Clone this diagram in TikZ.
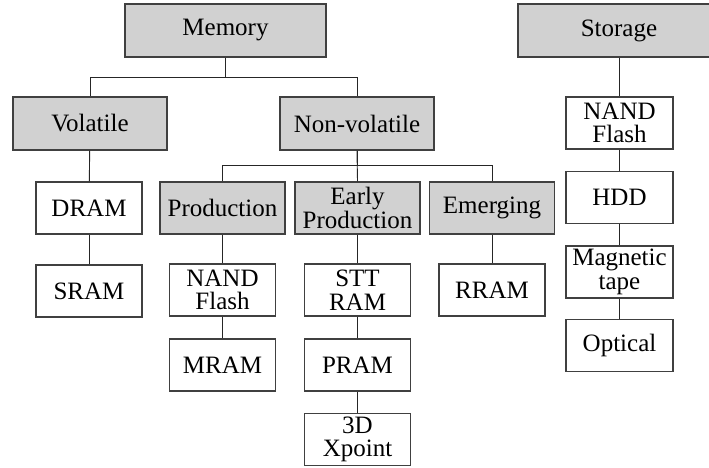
\documentclass[tikz,border=0pt]{standalone}
\usepackage{fontspec}
\setmainfont{Liberation Serif}
\usepackage{tikz}
\usetikzlibrary{positioning}

\begin{document}
\begin{tikzpicture}[x=1pt, y=-1pt,
  box/.style={draw=black!75, line width=1.4pt, inner sep=0pt, align=center,
    font=\fontsize{25}{23.5}\selectfont},
  group/.style={box, fill=black!18, minimum height=53pt},
  leaf/.style={box, fill=white, minimum width=106pt, minimum height=52pt},
  link/.style={draw=black!85, line width=0.9pt}]
  \clip (0,0) rectangle (709,468);
  % Top level
  \node[group, minimum width=201pt] (memory) at (225.5,30.5) {Memory};
  \node[group, minimum width=202pt] (storage) at (619,30.5) {Storage};
  % Memory classes
  \node[group, minimum width=154pt] (volatile) at (90,123.5) {Volatile};
  \node[group, minimum width=154pt] (nonvol) at (357,123.5) {Non-volatile};
  \node[group, minimum width=125pt, minimum height=52pt] (prod) at (222.5,208) {Production};
  \node[group, minimum width=125pt, minimum height=52pt] (early) at (357.5,208) {Early\\Production};
  \node[group, minimum width=125pt, minimum height=52pt] (emerg) at (492,208) {Emerging};
  % Devices
  \node[leaf] (dram) at (89,208) {DRAM};
  \node[leaf] (sram) at (89,291) {SRAM};
  \node[leaf] (nand) at (222.5,290) {NAND\\Flash};
  \node[leaf] (mram) at (222.5,365) {MRAM};
  \node[leaf] (stt) at (357.5,290) {STT\\RAM};
  \node[leaf] (pram) at (357.5,365) {PRAM};
  \node[leaf] (xpoint) at (357.5,439.5) {3D\\Xpoint};
  \node[leaf] (rram) at (492,290) {RRAM};
  % Storage devices
  \node[leaf, minimum width=107pt] (snand) at (619.5,123) {NAND\\Flash};
  \node[leaf, minimum width=107pt] (hdd) at (619.5,197.5) {HDD};
  \node[leaf, minimum width=107pt] (tape) at (619.5,272) {Magnetic\\tape};
  \node[leaf, minimum width=107pt] (optical) at (619.5,345.5) {Optical};
  % Connectors
  \draw[link] (memory.south) -- ++(0,20) -| (volatile.north);
  \draw[link] (memory.south) -- ++(0,20) -| (nonvol.north);
  \draw[link] (nonvol.south) -- ++(0,15) -| (prod.north);
  \draw[link] (nonvol.south) -- (early.north);
  \draw[link] (nonvol.south) -- ++(0,15) -| (emerg.north);
  \draw[link] (volatile) -- (dram);
  \draw[link] (dram) -- (sram);
  \draw[link] (prod) -- (nand);
  \draw[link] (nand) -- (mram);
  \draw[link] (early) -- (stt);
  \draw[link] (stt) -- (pram);
  \draw[link] (pram) -- (xpoint);
  \draw[link] (emerg) -- (rram);
  \draw[link] (storage.south) -- (storage.south |- snand.north);
  \draw[link] (snand) -- (hdd);
  \draw[link] (hdd) -- (tape);
  \draw[link] (tape) -- (optical);
\end{tikzpicture}
\end{document}
